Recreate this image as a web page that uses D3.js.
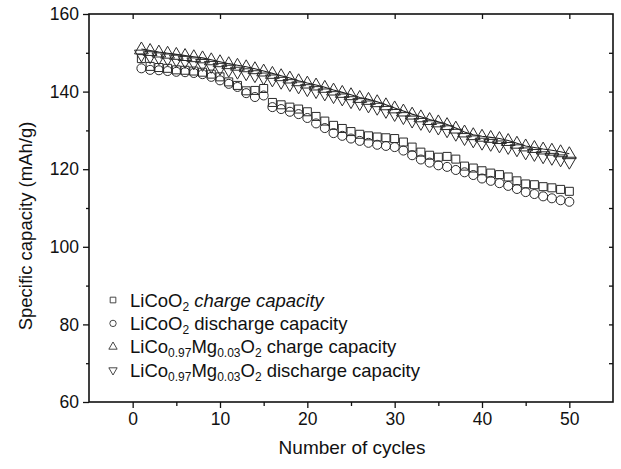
<!DOCTYPE html>
<html>
<head>
<meta charset="utf-8">
<script src="https://cdn.jsdelivr.net/npm/d3@7"></script>
<style>
body{margin:0;background:#fff;}
text{font-family:"Liberation Sans",Arial,sans-serif;fill:#111;}
</style>
</head>
<body>
<div id="chart"></div>
<script>
// cycles 1..50
var cycles = d3.range(1, 51);

// LiCoO2 charge capacity (squares)
var licooCharge = [148.5,146.5,146.2,146.0,145.6,145.5,145.3,145.0,144.5,143.8,
    142.5,141.6,140.2,140.3,140.8,137.2,136.6,136.0,135.5,134.8,
    133.6,132.4,131.3,130.5,129.7,129.0,128.6,128.3,128.1,127.9,
    127.0,125.7,124.4,123.6,123.1,123.3,122.6,120.8,120.3,119.6,
    119.0,118.6,118.0,117.0,116.2,116.0,115.5,115.2,114.8,114.3];

// LiCoO2 discharge capacity (circles)
var licooDischarge = [146.0,145.6,145.5,145.3,145.1,145.0,144.8,144.5,143.8,142.9,
    142.0,141.2,139.6,138.6,139.0,136.0,135.5,134.8,134.2,133.2,
    131.8,130.6,129.3,128.6,127.9,127.3,126.8,126.3,126.0,125.7,
    124.8,123.6,122.5,121.7,121.0,120.6,119.8,119.2,118.5,117.6,
    117.0,116.4,115.7,114.9,114.1,113.6,113.0,112.5,112.0,111.6];

// LiCo0.97Mg0.03O2 charge capacity (up triangles)
var mgCharge = [151.0,150.6,150.2,149.9,149.6,149.3,149.0,148.7,148.2,147.7,
    147.2,146.8,146.4,145.9,145.3,144.7,144.1,143.5,142.8,142.2,
    141.7,141.1,140.4,139.8,139.2,138.5,138.0,137.4,136.6,135.8,
    135.0,134.2,133.5,132.8,132.2,131.5,130.6,129.6,128.9,128.5,
    128.2,127.9,127.4,126.7,126.0,125.6,125.2,124.9,124.5,124.0];

// LiCo0.97Mg0.03O2 discharge capacity (down triangles)
var mgDischarge = [149.4,149.0,148.7,148.4,148.1,147.8,147.4,147.0,146.5,146.0,
    145.5,145.0,144.6,144.1,143.5,143.0,142.4,141.8,141.2,140.5,
    140.0,139.4,138.7,138.1,137.4,136.9,136.3,135.7,134.9,134.1,
    133.3,132.4,131.8,131.2,130.6,129.9,129.0,127.9,127.3,126.7,
    126.4,126.0,125.6,125.0,124.2,123.8,123.2,122.8,122.4,121.8];

var xTicks = [0,10,20,30,40,50];
var xMinor = [5,15,25,35,45];
var yTicks = [60,80,100,120,140,160];
var yMinor = [70,90,110,130,150];
var yRight = [70,80,90,100,110,120,130,140,150];

var w = 621, h = 469;
var margin = {top:14, left:89, right:8, bottom:67};
var iw = w - margin.left - margin.right;
var ih = h - margin.top - margin.bottom;

var svg = d3.select("#chart").append("svg")
    .attr("width", w)
    .attr("height", h)
    .append("g")
    .attr("transform", "translate(" + margin.left + "," + margin.top + ")");

var xScale = d3.scaleLinear().domain([-5, 55]).range([0, iw]);
var yScale = d3.scaleLinear().domain([60, 160]).range([ih, 0]);

// axes
function styleAxis(g){
    g.select(".domain").remove();
    g.selectAll("line").attr("stroke", "#111").attr("stroke-width", 1.3);
    g.selectAll("text").style("font-size", "17.5px");
}

svg.append("g")
    .attr("transform", "translate(0," + ih + ")")
    .call(d3.axisBottom(xScale).tickValues(xTicks).tickSize(6).tickPadding(5).tickFormat(d3.format("d")))
    .call(styleAxis);
svg.append("g")
    .attr("transform", "translate(0," + ih + ")")
    .call(d3.axisBottom(xScale).tickValues(xMinor).tickSize(4).tickFormat(""))
    .call(styleAxis);
svg.append("g")
    .call(d3.axisLeft(yScale).tickValues(yTicks).tickSize(6).tickPadding(4).tickFormat(d3.format("d")))
    .call(styleAxis);
svg.append("g")
    .call(d3.axisLeft(yScale).tickValues(yMinor).tickSize(3).tickFormat(""))
    .call(styleAxis);
// top and right: ticks pointing inward
svg.append("g")
    .call(d3.axisBottom(xScale).tickValues(xTicks).tickSize(5).tickFormat(""))
    .call(styleAxis);
svg.append("g")
    .attr("transform", "translate(" + iw + ",0)")
    .call(d3.axisLeft(yScale).tickValues(yRight).tickSize(4).tickFormat(""))
    .call(styleAxis);

// frame
svg.append("rect")
    .attr("x", 0).attr("y", 0)
    .attr("width", iw).attr("height", ih)
    .style("fill", "none")
    .style("stroke", "#111")
    .style("stroke-width", 1.6);

// line through the Mg charge points
var line = d3.line()
    .x(function(d, i){ return xScale(cycles[i]); })
    .y(function(d){ return yScale(d); });

svg.append("path")
    .datum(mgCharge)
    .attr("d", line)
    .style("fill", "none")
    .style("stroke", "#222")
    .style("stroke-width", 1.1);

var symSquare = d3.symbol().type(d3.symbolSquare).size(64);
var symCircle = d3.symbol().type(d3.symbolCircle).size(64);
var symTri = d3.symbol().type(d3.symbolTriangle).size(82);

function drawSeries(vals, sym, rot, dy){
    svg.append("g").selectAll("path")
        .data(vals)
        .enter().append("path")
        .attr("d", sym)
        .attr("transform", function(d, i){
            return "translate(" + xScale(cycles[i]) + "," + (yScale(d) + dy) + ")" + (rot ? " rotate(180)" : "");
        })
        .style("fill", "none")
        .style("stroke", "#2a2a2a")
        .style("stroke-width", 1);
}

drawSeries(licooCharge, symSquare, false, 0);
drawSeries(licooDischarge, symCircle, false, 0);
drawSeries(mgCharge, symTri, false, 1);
drawSeries(mgDischarge, symTri, true, -1);

// legend
var legendRows = [
    {sym: d3.symbol().type(d3.symbolSquare).size(32), rot: false, parts: [["LiCoO",""],["2","sub"],[" charge capacity","it"]]},
    {sym: d3.symbol().type(d3.symbolCircle).size(32), rot: false, parts: [["LiCoO",""],["2","sub"],[" discharge capacity",""]]},
    {sym: d3.symbol().type(d3.symbolTriangle).size(30), rot: false, parts: [["LiCo",""],["0.97","sub"],["Mg",""],["0.03","sub"],["O",""],["2","sub"],[" charge capacity",""]]},
    {sym: d3.symbol().type(d3.symbolTriangle).size(30), rot: true, parts: [["LiCo",""],["0.97","sub"],["Mg",""],["0.03","sub"],["O",""],["2","sub"],[" discharge capacity",""]]}
];

var lx = 113 - margin.left, ly0 = 300 - margin.top, lstep = 23.4;

legendRows.forEach(function(r, i){
    var y = ly0 + i * lstep;
    svg.append("path")
        .attr("d", r.sym)
        .attr("transform", "translate(" + lx + "," + y + ")" + (r.rot ? " rotate(180)" : ""))
        .style("fill", "none")
        .style("stroke", "#333")
        .style("stroke-width", 0.9);
    var t = svg.append("text")
        .attr("x", lx + 17)
        .attr("y", y + 6.5)
        .style("font-size", "18.5px");
    var prevSub = false;
    r.parts.forEach(function(p){
        var s = t.append("tspan").text(p[0]);
        var isSub = p[1] === "sub";
        if (isSub && !prevSub) s.attr("dy", 4);
        if (!isSub && prevSub) s.attr("dy", -4);
        if (isSub) s.style("font-size", "12px");
        if (p[1] === "it") s.style("font-style", "italic");
        prevSub = isSub;
    });
});

// axis titles
svg.append("text")
    .attr("x", 352 - margin.left)
    .attr("y", 454 - margin.top)
    .attr("text-anchor", "middle")
    .style("font-size", "19px")
    .text("Number of cycles");

svg.append("text")
    .attr("transform", "translate(" + (32 - margin.left) + "," + (226 - margin.top) + ") rotate(-90)")
    .attr("text-anchor", "middle")
    .style("font-size", "18.5px")
    .text("Specific capacity (mAh/g)");
</script>
</body>
</html>
